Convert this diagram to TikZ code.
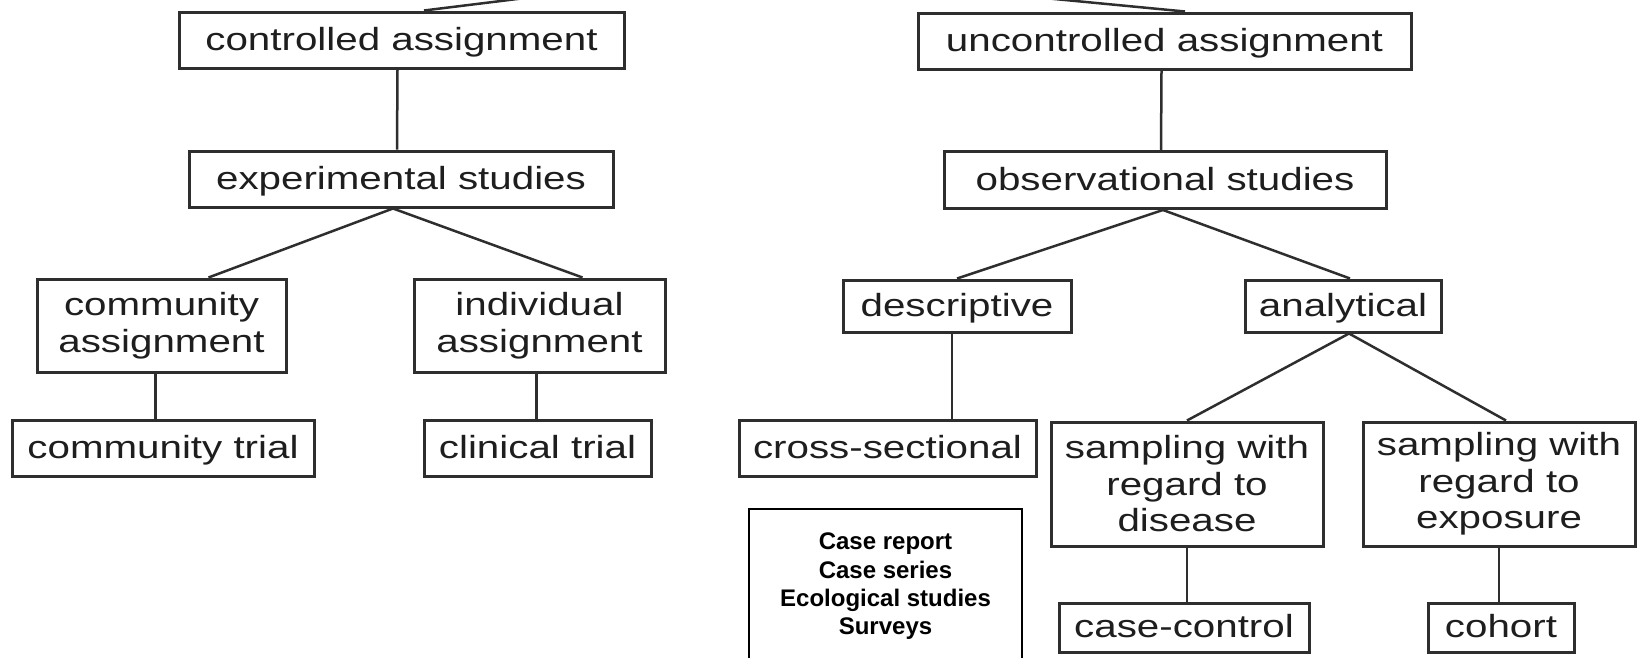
\documentclass[tikz,border=0pt]{standalone}
\usepackage{fontspec}
\newfontfamily\boxfont[FakeStretch=1.26]{Liberation Sans}
\newfontfamily\listfont{Liberation Sans}
\usetikzlibrary{calc}
\definecolor{edge}{HTML}{2E2E2E}
\definecolor{ink}{HTML}{1E1E1E}

\begin{document}
\begin{tikzpicture}[x=1pt,y=-1pt,
  box/.style={draw=edge, line width=3pt, fill=white, inner sep=0pt, align=center,
    text=ink, font=\boxfont\fontsize{32}{36.5}\selectfont},
  one/.style={box, text height=25pt, text depth=5pt},
  link/.style={draw=edge, line width=2.5pt},
  listbox/.style={draw=black, line width=2pt, inner sep=0pt, align=center,
    font=\listfont\bfseries\fontsize{24}{28.3}\selectfont},
  ]
\path[use as bounding box] (0,0) rectangle (1637,657);
\clip (0,0) rectangle (1637,657);

% experimental branch
\node[one, minimum width=445pt, minimum height=56pt] (ctrl)   at (401.5,40)  {controlled assignment};
\node[one, minimum width=424pt, minimum height=56pt] (exp)    at (401,179)   {experimental studies};
\node[box, minimum width=249pt, minimum height=93pt] (commA)  at (161.5,325.5) {community\\assignment};
\node[box, minimum width=251pt, minimum height=93pt] (indA)   at (539.5,325.5) {individual\\assignment};
\node[one, minimum width=302pt, minimum height=56pt] (commT)  at (163,448)   {community trial};
\node[one, minimum width=227pt, minimum height=56pt] (clinT)  at (537.5,448) {clinical trial};

% observational branch
\node[one, minimum width=493pt, minimum height=56pt] (unctrl) at (1164.5,41) {uncontrolled assignment};
\node[one, minimum width=442pt, minimum height=57pt] (obs)    at (1165,180)  {observational studies};
\node[one, minimum width=228pt, minimum height=52pt] (desc)   at (957,306)   {descriptive};
\node[one, minimum width=196pt, minimum height=52pt] (anal)   at (1343,306)  {analytical};
\node[one, minimum width=297pt, minimum height=56pt] (cross)  at (887.5,448) {cross-sectional};
\node[box, minimum width=272pt, minimum height=124pt] (sampD) at (1187,484)  {sampling with\\regard to\\disease};
\node[box, minimum width=272pt, minimum height=124pt] (sampE) at (1499,484)  {sampling with\\regard to\\exposure};
\node[one, minimum width=250pt, minimum height=49pt] (cc)     at (1184,627.5) {case-control};
\node[one, minimum width=146pt, minimum height=49pt] (cohort) at (1501,627.5) {cohort};

% list of descriptive designs, open at the lower edge
\node[listbox, minimum width=273pt, minimum height=155pt, anchor=north] (cases) at (885.5,508)
  {Case report\\Case series\\Ecological studies\\Surveys};

% connectors
\coordinate (root) at (752,-30);
\draw[link] (root) -- ($(ctrl.north)+(22.5,0)$);
\draw[link] (root) -- ($(unctrl.north)+(20.5,0)$);

\draw[link] ($(ctrl.south)+(-4,0)$) -- ($(exp.north)+(-4,0)$);
\coordinate (expA) at ($(exp.south)+(-8,0)$);
\draw[link] (expA) -- ($(commA.north)+(47,0)$);
\draw[link] (expA) -- ($(indA.north)+(43,0)$);
\coordinate (caA) at ($(commA.south)+(-6,0)$);
\draw[link] (caA) -- (caA |- commT.north);
\coordinate (iaA) at ($(indA.south)+(-3,0)$);
\draw[link] (iaA) -- (iaA |- clinT.north);

\draw[link] ($(unctrl.south)+(-3,0)$) -- ($(obs.north)+(-4,0)$);
\coordinate (obsA) at ($(obs.south)+(-2,0)$);
\draw[link] (obsA) -- (desc.north);
\draw[link] (obsA) -- ($(anal.north)+(7,0)$);
\coordinate (dsA) at ($(desc.south)+(-5,0)$);
\draw[link] (dsA) -- (dsA |- cross.north);
\coordinate (anA) at ($(anal.south)+(6,0)$);
\draw[link] (anA) -- (sampD.north);
\draw[link] (anA) -- ($(sampE.north)+(7,0)$);
\draw[link] (sampD.south) -- (sampD.south |- cc.north);
\draw[link] (sampE.south) -- (sampE.south |- cohort.north);
\end{tikzpicture}
\end{document}
